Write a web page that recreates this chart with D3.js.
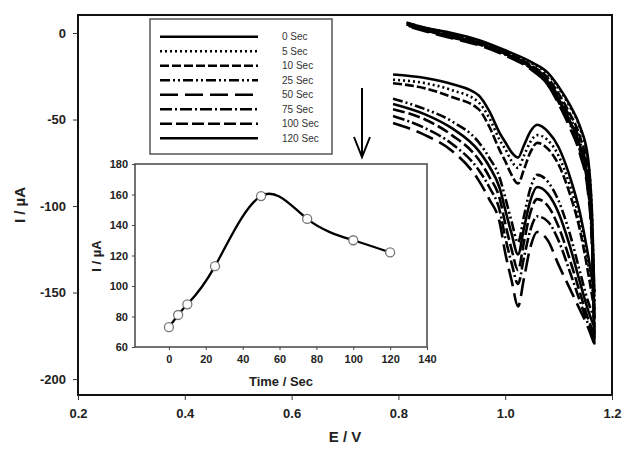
<!DOCTYPE html>
<html><head><meta charset="utf-8">
<script src="https://cdn.jsdelivr.net/npm/d3@7"></script>
<style>body{margin:0;background:#fff}svg{display:block;font-family:"Liberation Sans",Arial,sans-serif}</style>
</head><body><svg id="c" width="625" height="458"></svg>
<script>
// ---- data ----
const seriesNames = ["0 Sec","5 Sec","10 Sec","25 Sec","50 Sec","75 Sec","100 Sec","120 Sec"];
const xTicks = [0.2,0.4,0.6,0.8,1.0,1.2];
const yTicks = [0,-50,-100,-150,-200];
const eLower = [0.79,0.85,0.90,0.95,0.97,0.99,1.00,1.012,1.024,1.035,1.047,1.06,1.08,1.10,1.12,1.14,1.155,1.167];
const eUpper = [1.167,1.163,1.155,1.14,1.12,1.10,1.08,1.05,1.00,0.95,0.90,0.85,0.815];
const lower0   = [-24,-26,-29.5,-36,-45,-58,-63,-69,-72,-65,-57,-53,-57,-66,-82,-104,-128,-150];
const lower5   = [-27,-29,-33,-40,-49,-62,-67,-74,-78,-71,-63,-59,-62,-71,-87,-109,-133,-155];
const lower10  = [-29,-32,-37,-44,-54,-68,-74,-82,-87,-79,-69,-63.5,-67,-76,-92,-114,-138,-160];
const lower25  = [-38,-44,-51,-63,-72,-84,-95,-109,-121,-106,-90,-82,-86,-97,-115,-138,-155,-165];
const lower50  = [-52,-59,-68,-85,-96,-110,-127,-143,-158,-142,-124,-115,-120,-134,-147,-160,-170,-180];
const lower75  = [-48,-55,-64,-79,-89,-103,-118,-133,-145,-130,-114,-106,-109,-120,-137,-155,-168,-177];
const lower100 = [-44,-50,-59,-73,-83,-96,-110,-125,-137,-121,-104,-96,-100,-112,-130,-150,-165,-174];
const lower120 = [-41,-47,-55,-68,-77,-90,-102,-116,-128,-113,-97,-89,-93,-104,-122,-144,-160,-170];
const upper0   = [-150,-108,-72,-54,-41,-31,-23,-17,-10,-4,0,3,6];
const upper5   = [-155,-110,-74,-55,-42,-32,-24,-17.5,-10.5,-4.5,-0.5,3,6];
const upper10  = [-160,-115,-80,-60,-46,-35,-26,-19,-11,-5,-1,2.5,5.5];
const upper25  = [-165,-118,-84,-63,-48,-37,-27,-19.5,-11.5,-5.5,-1.5,2,5];
const upper50  = [-180,-126,-92,-70,-54,-41,-30,-21.5,-13,-7,-3,1,4];
const upper75  = [-177,-124,-90,-68,-52,-40,-30,-21,-12.5,-6.5,-2.5,1.5,4.5];
const upper100 = [-174,-122,-88,-66,-51,-39,-29,-20.5,-12,-6,-2,1.5,4.5];
const upper120 = [-170,-120,-86,-65,-50,-38,-28,-20,-12,-6,-2,2,5];
const lowerAll = [lower0,lower5,lower10,lower25,lower50,lower75,lower100,lower120];
const upperAll = [upper0,upper5,upper10,upper25,upper50,upper75,upper100,upper120];
const insetTime = [0,5,10,25,50,75,100,120];
const insetCurrent = [73,81,88,113,159,144,130,122];
const insetXTicks = [0,20,40,60,80,100,120,140];
const insetYTicks = [60,80,100,120,140,160,180];

// ---- styles ----
const dashes = ["none","2,3","9,3","10,3,2,3,2,3","18,7","12,3,2,3","12,4","none"];

const svg = d3.select("#c");
const x = d3.scaleLinear().domain([0.2,1.2]).range([78,612]);
const y = d3.scaleLinear().domain([-209.2,10.4]).range([395,15]);

// curves
const line = d3.line().x(d=>x(d[0])).y(d=>y(d[1])).curve(d3.curveMonotoneX);
const g = svg.append("g");
seriesNames.forEach((n,i)=>{
  const pts = eLower.map((e,k)=>[e,lowerAll[i][k]]);
  const up = eUpper.map((e,k)=>[e,upperAll[i][k]]);
  [pts,up].forEach(p=>{
    g.append("path").attr("d",line(p)).attr("fill","none").attr("stroke","#000")
     .attr("stroke-width",2.6).attr("stroke-dasharray",dashes[i]==="none"?null:dashes[i]);
  });
});

// main frame & axes
svg.append("rect").attr("x",78).attr("y",15).attr("width",534).attr("height",380)
  .attr("fill","none").attr("stroke","#111").attr("stroke-width",2);
const xa = svg.append("g").attr("transform","translate(0,395)")
  .call(d3.axisBottom(x).tickValues(xTicks).tickSize(5).tickPadding(9).tickFormat(d3.format(".1f")));
const ya = svg.append("g").attr("transform","translate(78,0)")
  .call(d3.axisLeft(y).tickValues(yTicks).tickSize(5).tickPadding(7).tickFormat(d=>d));
[xa,ya].forEach(a=>{a.select(".domain").remove();
  a.selectAll("line").attr("stroke","#333").attr("stroke-width",1);
  a.selectAll("text").attr("font-size",13).attr("font-weight","bold").attr("fill","#222")
   .attr("font-family","Liberation Sans, Arial, sans-serif");});
svg.append("text").attr("x",345).attr("y",442).attr("text-anchor","middle")
  .attr("font-size",15).attr("font-weight","bold").attr("fill","#222").text("E / V");
svg.append("text").attr("transform","translate(25,205) rotate(-90)").attr("text-anchor","middle")
  .attr("font-size",15).attr("font-weight","bold").attr("fill","#222").text("I / µA");

// legend
svg.append("rect").attr("x",150).attr("y",19).attr("width",182).attr("height",135)
  .attr("fill","#fff").attr("stroke","#555").attr("stroke-width",1.5);
seriesNames.forEach((n,i)=>{
  const yy = 36.7 + i*14.5;
  svg.append("line").attr("x1",160).attr("x2",258).attr("y1",yy).attr("y2",yy)
    .attr("stroke","#000").attr("stroke-width",2.4).attr("stroke-dasharray",dashes[i]==="none"?null:dashes[i]);
  svg.append("text").attr("x",282).attr("y",yy+3.5).attr("font-size",10).attr("fill","#333").text(n);
});

// arrow
svg.append("path").attr("d","M362,88 L362,157 M354,137 L362,157 L370,137")
  .attr("fill","none").attr("stroke","#000").attr("stroke-width",2);

// inset
const ix = d3.scaleLinear().domain([-18.4,140]).range([135,427]);
const iy = d3.scaleLinear().domain([60,180]).range([347,164]);
svg.append("rect").attr("x",135).attr("y",164).attr("width",292).attr("height",183)
  .attr("fill","#fff").attr("stroke","#444").attr("stroke-width",1.5);
const ixa = svg.append("g").attr("transform","translate(0,347)")
  .call(d3.axisBottom(ix).tickValues(insetXTicks).tickSize(3).tickPadding(5));
const iya = svg.append("g").attr("transform","translate(135,0)")
  .call(d3.axisLeft(iy).tickValues(insetYTicks).tickSize(3).tickPadding(4));
[ixa,iya].forEach(a=>{a.select(".domain").remove();
  a.selectAll("line").attr("stroke","#444");
  a.selectAll("text").attr("font-size",11).attr("font-weight","bold").attr("fill","#222")
   .attr("font-family","Liberation Sans, Arial, sans-serif");});
svg.append("text").attr("x",281).attr("y",386).attr("text-anchor","middle")
  .attr("font-size",13).attr("font-weight","bold").attr("fill","#222").text("Time / Sec");
svg.append("text").attr("transform","translate(101,256) rotate(-90)").attr("text-anchor","middle")
  .attr("font-size",13).attr("font-weight","bold").attr("fill","#222").text("I / µA");
const ipts = insetTime.map((t,i)=>[t,insetCurrent[i]]);
svg.append("path").attr("d",d3.line().x(d=>ix(d[0])).y(d=>iy(d[1])).curve(d3.curveNatural)(ipts))
  .attr("fill","none").attr("stroke","#000").attr("stroke-width",2.3);
svg.selectAll("circle.p").data(ipts).enter().append("circle")
  .attr("cx",d=>ix(d[0])).attr("cy",d=>iy(d[1])).attr("r",4.5)
  .attr("fill","#fff").attr("stroke","#777").attr("stroke-width",1.3);
</script></body></html>
